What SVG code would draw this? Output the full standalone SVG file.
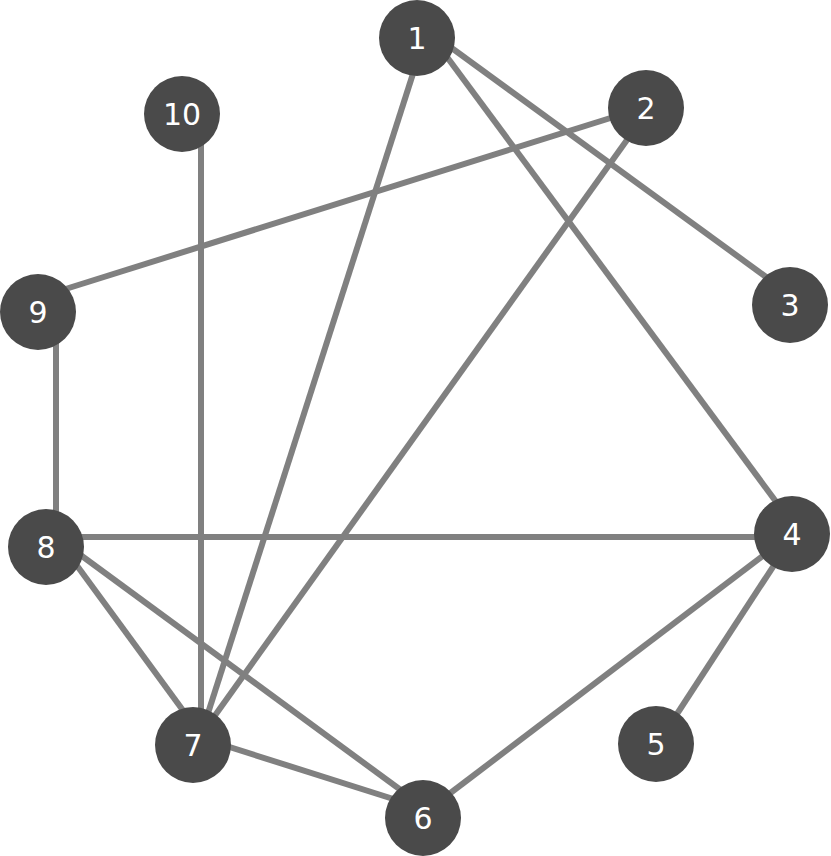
<svg xmlns="http://www.w3.org/2000/svg" width="831" height="856" viewBox="0 0 831 856">
<style>
.e{stroke:#808080;stroke-width:6;fill:none}
.n circle{fill:#4a4a4a}
.n text{fill:#fff;font-family:"DejaVu Sans",sans-serif;font-size:30px;text-anchor:middle;dominant-baseline:central}
</style>
<rect width="831" height="856" fill="#fff"/>
<g id="edges">
<line class="e" x1="427" y1="30" x2="795" y2="298"/>
<line class="e" x1="427" y1="30" x2="797" y2="530"/>
<line class="e" x1="427" y1="30" x2="201" y2="735"/>
<line class="e" x1="652" y1="105" x2="56" y2="292"/>
<line class="e" x1="652" y1="105" x2="201" y2="735"/>
<line class="e" x1="201" y1="104" x2="201" y2="735"/>
<line class="e" x1="56" y1="302" x2="56" y2="537"/>
<line class="e" x1="56" y1="537" x2="797" y2="537"/>
<line class="e" x1="56" y1="537" x2="201" y2="735"/>
<line class="e" x1="56" y1="537" x2="428" y2="810"/>
<line class="e" x1="201" y1="738" x2="428" y2="810"/>
<line class="e" x1="797" y1="530" x2="428" y2="810"/>
<line class="e" x1="797" y1="530" x2="660" y2="740"/>
</g>
<g id="n1" class="n"><circle cx="417" cy="38" r="38"/><text x="417" y="38">1</text></g>
<g id="n2" class="n"><circle cx="646" cy="108" r="38"/><text x="646" y="108">2</text></g>
<g id="n3" class="n"><circle cx="790" cy="305" r="38"/><text x="790" y="305">3</text></g>
<g id="n4" class="n"><circle cx="792" cy="534" r="38"/><text x="792" y="534">4</text></g>
<g id="n5" class="n"><circle cx="656" cy="744" r="38"/><text x="656" y="744">5</text></g>
<g id="n6" class="n"><circle cx="423" cy="818" r="38"/><text x="423" y="818">6</text></g>
<g id="n7" class="n"><circle cx="193" cy="745" r="38"/><text x="193" y="745">7</text></g>
<g id="n8" class="n"><circle cx="46" cy="547" r="38"/><text x="46" y="547">8</text></g>
<g id="n9" class="n"><circle cx="38" cy="312" r="38"/><text x="38" y="312">9</text></g>
<g id="n10" class="n"><circle cx="182" cy="114" r="38"/><text x="182" y="114">10</text></g>
</svg>
